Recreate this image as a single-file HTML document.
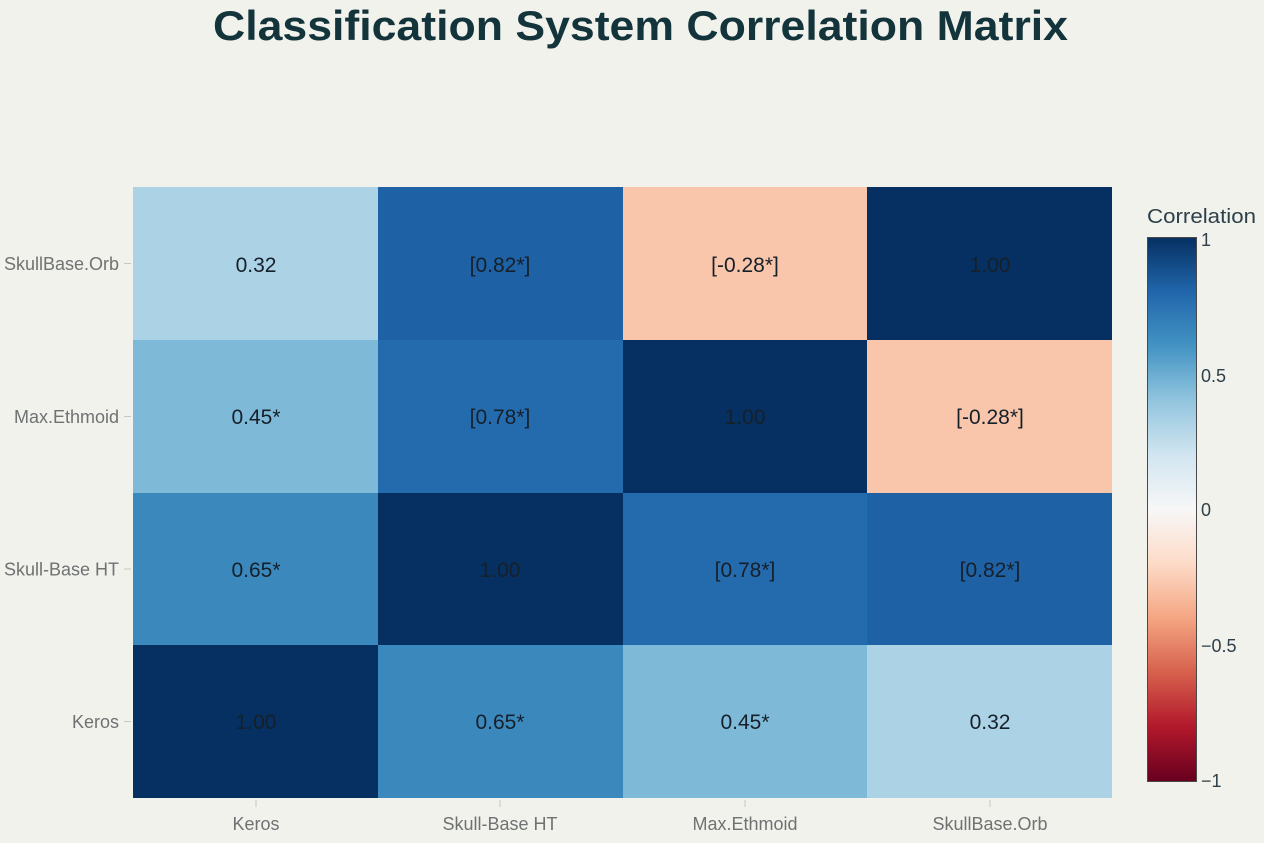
<!DOCTYPE html>
<html>
<head>
<meta charset="utf-8">
<style>
  html, body { margin:0; padding:0; background:#f2f2ed; }
  svg { display:block; }
  text { font-family: "Liberation Sans", "DejaVu Sans", sans-serif; }
</style>
</head>
<body>
<svg width="1264" height="843" viewBox="0 0 1264 843" xmlns="http://www.w3.org/2000/svg">
  <defs>
    <linearGradient id="rdbu" x1="0" y1="0" x2="0" y2="1">
      <stop offset="0" stop-color="rgb(5,48,97)"/>
      <stop offset="0.1" stop-color="rgb(33,102,172)"/>
      <stop offset="0.2" stop-color="rgb(67,147,195)"/>
      <stop offset="0.3" stop-color="rgb(146,197,222)"/>
      <stop offset="0.4" stop-color="rgb(209,229,240)"/>
      <stop offset="0.5" stop-color="rgb(247,247,247)"/>
      <stop offset="0.6" stop-color="rgb(253,219,199)"/>
      <stop offset="0.7" stop-color="rgb(244,165,130)"/>
      <stop offset="0.8" stop-color="rgb(214,96,77)"/>
      <stop offset="0.9" stop-color="rgb(178,24,43)"/>
      <stop offset="1" stop-color="rgb(103,0,31)"/>
    </linearGradient>
  </defs>
  <rect x="0" y="0" width="1264" height="843" fill="#f2f2ed"/>

  <!-- Title -->
  <text x="640.5" y="40" text-anchor="middle" font-size="42" font-weight="bold" fill="#13343b" textLength="855" lengthAdjust="spacingAndGlyphs">Classification System Correlation Matrix</text>

  <!-- Heatmap cells -->
  <rect x="133" y="187" width="245" height="153" fill="rgb(171,210,229)"/>
  <rect x="378" y="187" width="245" height="153" fill="rgb(30,97,165)"/>
  <rect x="623" y="187" width="244" height="153" fill="rgb(249,197,171)"/>
  <rect x="867" y="187" width="245" height="153" fill="rgb(5,48,97)"/>

  <rect x="133" y="340" width="245" height="153" fill="rgb(126,185,215)"/>
  <rect x="378" y="340" width="245" height="153" fill="rgb(36,107,174)"/>
  <rect x="623" y="340" width="244" height="153" fill="rgb(5,48,97)"/>
  <rect x="867" y="340" width="245" height="153" fill="rgb(249,197,171)"/>

  <rect x="133" y="493" width="245" height="152" fill="rgb(59,136,189)"/>
  <rect x="378" y="493" width="245" height="152" fill="rgb(5,48,97)"/>
  <rect x="623" y="493" width="244" height="152" fill="rgb(36,107,174)"/>
  <rect x="867" y="493" width="245" height="152" fill="rgb(30,97,165)"/>

  <rect x="133" y="645" width="245" height="153" fill="rgb(5,48,97)"/>
  <rect x="378" y="645" width="245" height="153" fill="rgb(59,136,189)"/>
  <rect x="623" y="645" width="244" height="153" fill="rgb(126,185,215)"/>
  <rect x="867" y="645" width="245" height="153" fill="rgb(171,210,229)"/>

  <!-- Cell text -->
  <g font-size="21" fill="#16202a" text-anchor="middle">
    <text x="256" y="272">0.32</text>
    <text x="500" y="272">[0.82*]</text>
    <text x="745" y="272">[-0.28*]</text>
    <text x="990" y="272">1.00</text>

    <text x="256" y="424">0.45*</text>
    <text x="500" y="424">[0.78*]</text>
    <text x="745" y="424">1.00</text>
    <text x="990" y="424">[-0.28*]</text>

    <text x="256" y="577">0.65*</text>
    <text x="500" y="577">1.00</text>
    <text x="745" y="577">[0.78*]</text>
    <text x="990" y="577">[0.82*]</text>

    <text x="256" y="729">1.00</text>
    <text x="500" y="729">0.65*</text>
    <text x="745" y="729">0.45*</text>
    <text x="990" y="729">0.32</text>
  </g>

  <!-- Ticks -->
  <g stroke="#c8c8c4" stroke-width="1">
    <line x1="124" y1="263.5" x2="131" y2="263.5"/>
    <line x1="124" y1="416.5" x2="131" y2="416.5"/>
    <line x1="124" y1="569" x2="131" y2="569"/>
    <line x1="124" y1="721.5" x2="131" y2="721.5"/>
    <line x1="256" y1="800" x2="256" y2="807"/>
    <line x1="500" y1="800" x2="500" y2="807"/>
    <line x1="745" y1="800" x2="745" y2="807"/>
    <line x1="990" y1="800" x2="990" y2="807"/>
  </g>

  <!-- Y labels -->
  <g font-size="18" fill="#6f7272" text-anchor="end">
    <text x="119" y="270">SkullBase.Orb</text>
    <text x="119" y="423">Max.Ethmoid</text>
    <text x="119" y="575.5">Skull-Base HT</text>
    <text x="119" y="728">Keros</text>
  </g>

  <!-- X labels -->
  <g font-size="18" fill="#6f7272" text-anchor="middle">
    <text x="256" y="830">Keros</text>
    <text x="500" y="830">Skull-Base HT</text>
    <text x="745" y="830">Max.Ethmoid</text>
    <text x="990" y="830">SkullBase.Orb</text>
  </g>

  <!-- Colorbar -->
  <text x="1147" y="223" font-size="20" fill="#2e4049" textLength="109" lengthAdjust="spacingAndGlyphs">Correlation</text>
  <rect x="1147.5" y="237.5" width="49" height="544" fill="url(#rdbu)" stroke="#4a4a4a" stroke-width="1"/>
  <g font-size="18" fill="#2e4049">
    <text x="1201" y="246">1</text>
    <text x="1201" y="382">0.5</text>
    <text x="1201" y="516">0</text>
    <text x="1201" y="652">−0.5</text>
    <text x="1201" y="787">−1</text>
  </g>
</svg>
</body>
</html>
